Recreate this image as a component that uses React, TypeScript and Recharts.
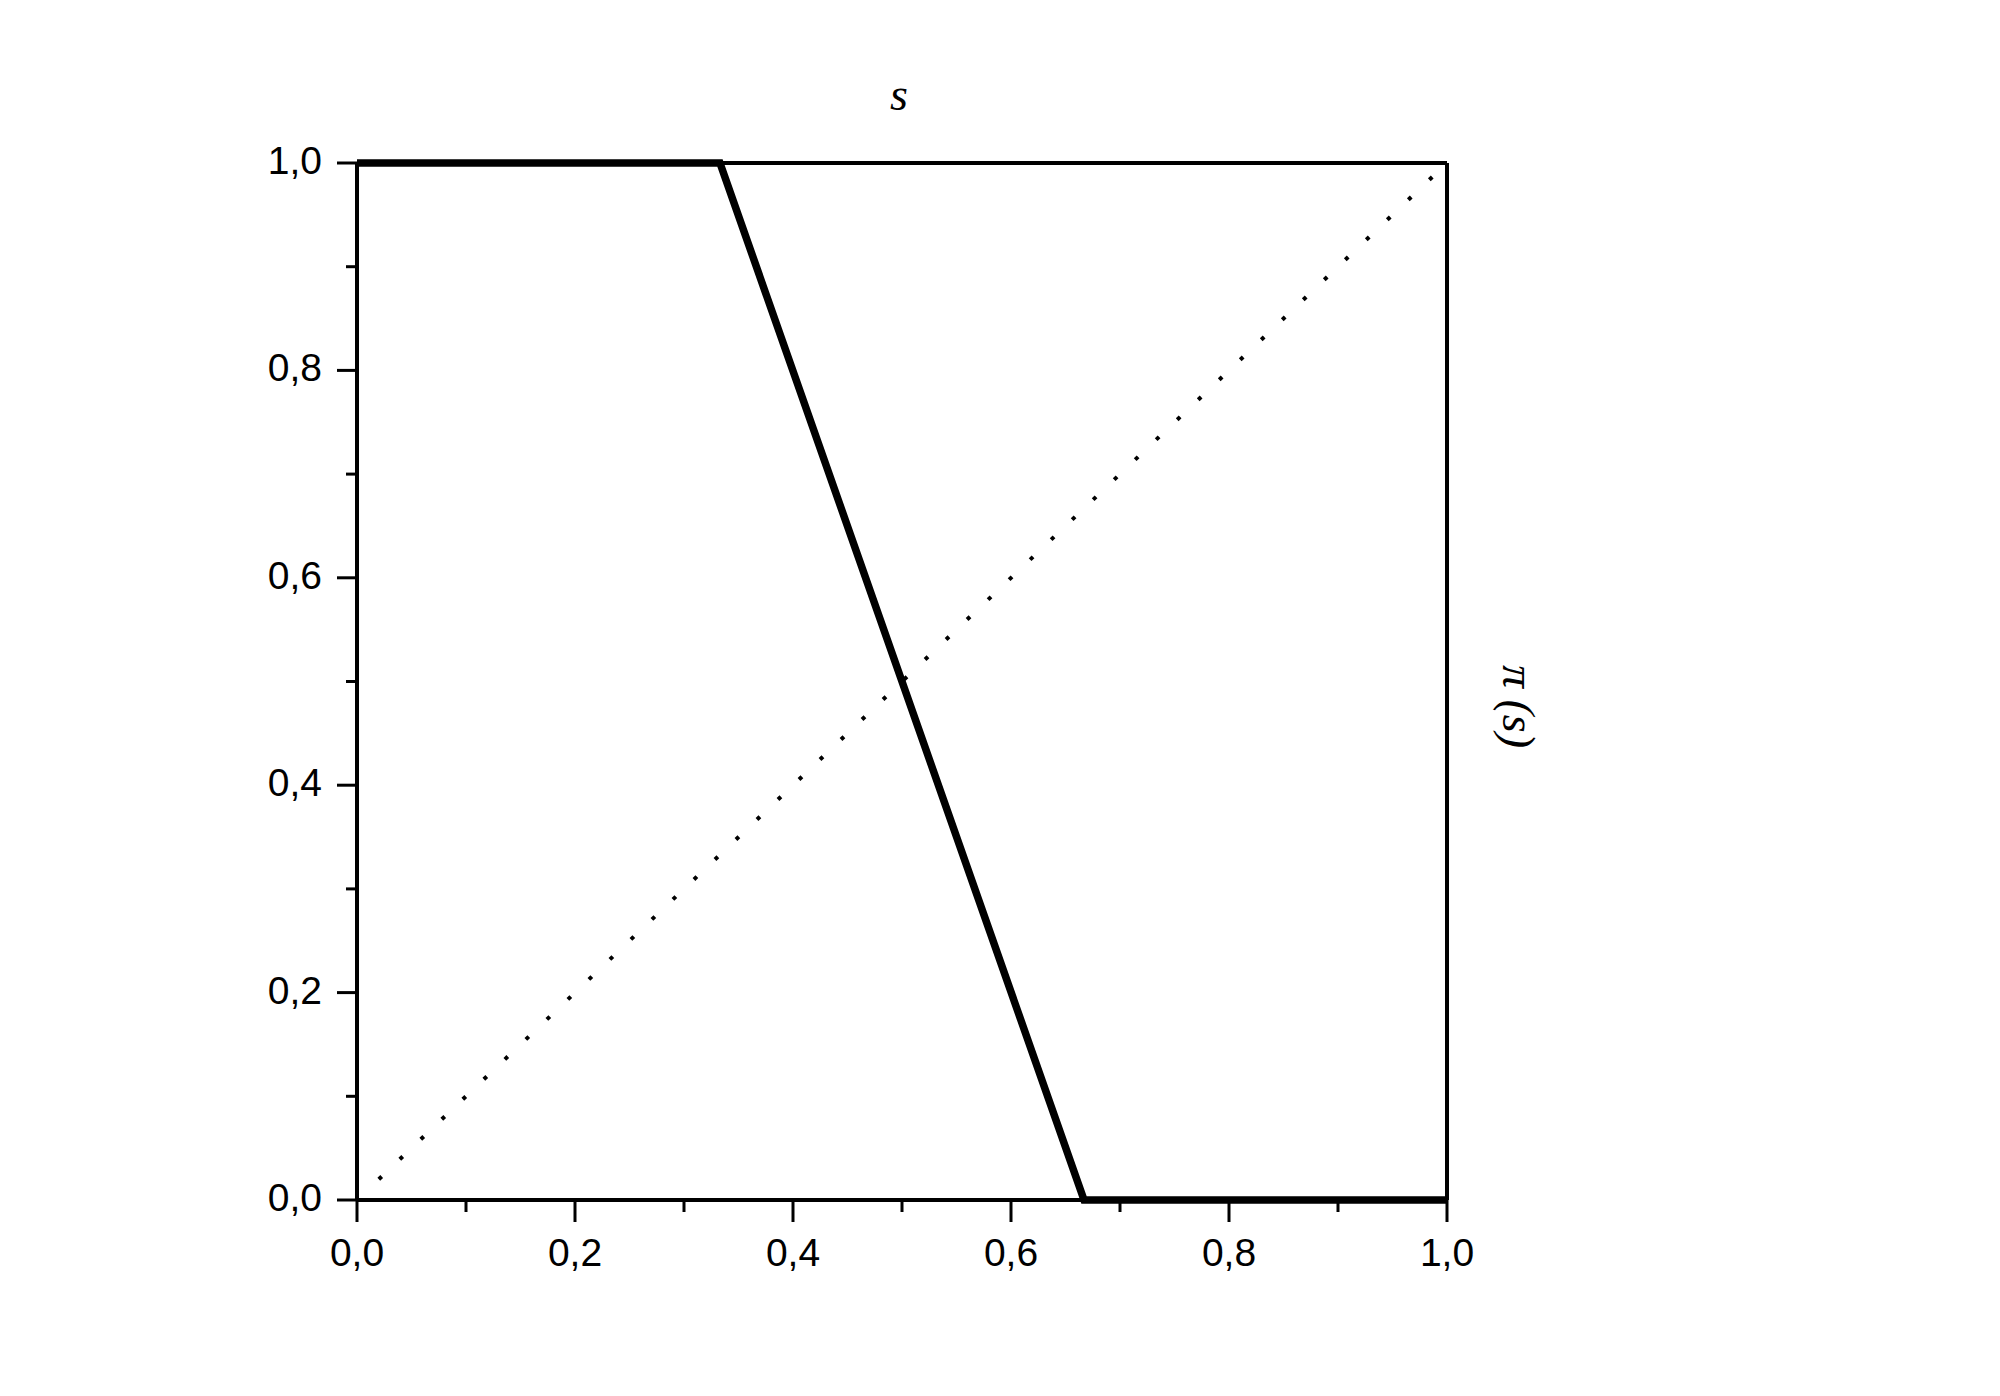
import { LineChart, Line, XAxis, YAxis, Label } from 'recharts';

// main curve pi(s)
const sValues = [0, 0.333, 0.667, 1];
const piValues = [1, 1, 0, 0];

// dotted diagonal
const diagS = [0.02, 1];
const diagPi = [0.02, 1];

// ticks (majors get a label, odd tenths are minor)
const ticks = [0, 0.1, 0.2, 0.3, 0.4, 0.5, 0.6, 0.7, 0.8, 0.9, 1];

const curveData = sValues.map((s, i) => ({ s, pi: piValues[i] }));
const diagData = diagS.map((s, i) => ({ s, pi: diagPi[i] }));

const isMajor = (v: number) => Math.round(v * 10) % 2 === 0;
const fmt = (v: number) => v.toFixed(1).replace('.', ',');

const tickFont = '"Liberation Sans", Arial, sans-serif';
const mathFont = 'Liberation Serif, DejaVu Serif, serif';

function XTick(props: any) {
  const { x, y, payload } = props;
  const major = isMajor(payload.value);
  return (
    <g>
      <line x1={x} x2={x} y1={y} y2={y + (major ? 22 : 12)} stroke="#000" strokeWidth={3} />
      {major && (
        <text x={x} y={y + 66} textAnchor="middle" fontSize={39} fontFamily={tickFont} fill="#000">
          {fmt(payload.value)}
        </text>
      )}
    </g>
  );
}

function YTick(props: any) {
  const { x, y, payload } = props;
  const major = isMajor(payload.value);
  return (
    <g>
      <line x1={x - (major ? 20 : 11)} x2={x} y1={y} y2={y} stroke="#000" strokeWidth={3} />
      {major && (
        <text x={x - 35} y={y + 11} textAnchor="end" fontSize={39} fontFamily={tickFont} fill="#000">
          {fmt(payload.value)}
        </text>
      )}
    </g>
  );
}

export default function App() {
  const axisLine = { stroke: '#000', strokeWidth: 4 };
  return (
    <div style={{ position: 'absolute', left: 0, top: 0, width: 2000, height: 1396, background: '#fff' }}>
      <LineChart
        width={2000}
        height={1396}
        margin={{ top: 162, right: 552, bottom: 195, left: 356 }}
      >
        <XAxis
          dataKey="s"
          type="number"
          domain={[0, 1]}
          ticks={ticks}
          interval={0}
          height={1}
          tickSize={0}
          tickMargin={0}
          tickLine={false}
          axisLine={axisLine}
          tick={<XTick />}
        />
        <XAxis
          xAxisId="top"
          orientation="top"
          dataKey="s"
          type="number"
          domain={[0, 1]}
          height={1}
          tick={false}
          tickLine={false}
          axisLine={axisLine}
        >
          <Label
            content={({ viewBox }: any) => (
              <text
                x={viewBox.x + viewBox.width / 2 - 3}
                y={viewBox.y - 52}
                textAnchor="middle"
                fontSize={46}
                fontStyle="italic"
                fontFamily={mathFont}
                fill="#000"
              >
                s
              </text>
            )}
          />
        </XAxis>
        <YAxis
          type="number"
          domain={[0, 1]}
          ticks={ticks}
          interval={0}
          width={1}
          tickSize={0}
          tickMargin={0}
          tickLine={false}
          axisLine={axisLine}
          tick={<YTick />}
        />
        <YAxis
          yAxisId="right"
          orientation="right"
          type="number"
          domain={[0, 1]}
          width={1}
          tick={false}
          tickLine={false}
          axisLine={axisLine}
        >
          <Label
            content={({ viewBox }: any) => {
              const tx = viewBox.x + 56;
              const ty = viewBox.y + viewBox.height / 2 + 25;
              return (
                <text
                  x={tx}
                  y={ty}
                  textAnchor="middle"
                  fontSize={46}
                  fontStyle="italic"
                  fontFamily={mathFont}
                  fill="#000"
                  transform={`rotate(90, ${tx}, ${ty})`}
                >
                  π (s)
                </text>
              );
            }}
          />
        </YAxis>
        <Line
          data={diagData}
          dataKey="pi"
          type="linear"
          stroke="#000"
          strokeWidth={4}
          strokeDasharray="4 25"
          dot={false}
          activeDot={false}
          isAnimationActive={false}
        />
        <Line
          data={curveData}
          dataKey="pi"
          type="linear"
          stroke="#000"
          strokeWidth={7.5}
          strokeLinejoin="miter"
          dot={false}
          activeDot={false}
          isAnimationActive={false}
        />
      </LineChart>
    </div>
  );
}
